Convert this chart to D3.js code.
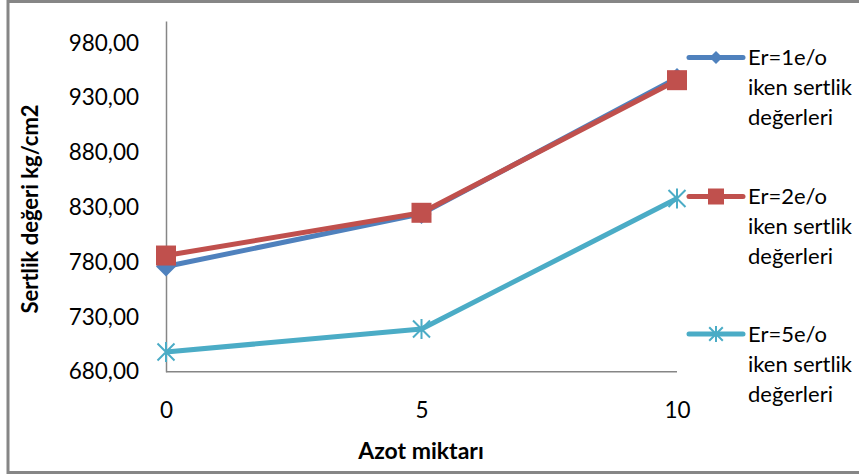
<!DOCTYPE html>
<html>
<head>
<meta charset="utf-8">
<script src="https://cdn.jsdelivr.net/npm/d3@7"></script>
<style>
  html, body { margin: 0; padding: 0; background: #fff; }
  svg { display: block; }
  text { font-family: Lato, "Open Sans", sans-serif; fill: #000; }
</style>
</head>
<body>
<svg id="chart" width="859" height="474"></svg>
<script>
// Azot miktarı (x categories)
const categories = ["0", "5", "10"];
// Sertlik değerleri, kg/cm2
const er1 = [776, 824, 948];
const er2 = [786, 825, 946];
const er5 = [698, 719, 838];
const seriesNames = [
  ["Er=1e/o", "iken sertlik", "değerleri"],
  ["Er=2e/o", "iken sertlik", "değerleri"],
  ["Er=5e/o", "iken sertlik", "değerleri"]
];
const yTicks = [680, 730, 780, 830, 880, 930, 980];
const colors = ["#4F81BD", "#C0504D", "#4BACC6"];
const markers = ["diamond", "square", "star"];

const svg = d3.select("#chart");

// outer frame
svg.append("rect")
  .attr("x", 8).attr("y", 1.5)
  .attr("width", 860).attr("height", 471)
  .attr("fill", "#fff").attr("stroke", "#868686").attr("stroke-width", 3);

const x = d3.scalePoint().domain(categories).range([166, 677]);
const y = d3.scaleLinear().domain([680, 1000]).range([371.7, 21]);

// y axis
const yAxis = d3.axisLeft(y)
  .tickValues(yTicks)
  .tickSize(0)
  .tickPadding(27)
  .tickFormat(d => d3.format(".2f")(d).replace(".", ","));
const gy = svg.append("g").attr("transform", "translate(166,0)").call(yAxis);
gy.select(".domain").attr("stroke", "#868686").attr("stroke-width", 1.5);
gy.selectAll("text").attr("font-size", 22.5).attr("font-family", "Lato, sans-serif").attr("fill", "#000");

// x axis
const xAxis = d3.axisBottom(x).tickSize(0).tickPadding(30);
const gx = svg.append("g").attr("transform", "translate(0,371.7)").call(xAxis);
gx.select(".domain").attr("stroke", "#868686").attr("stroke-width", 1.5).attr("d", "M166,0H677");
gx.selectAll("text").attr("font-size", 22.5).attr("font-family", "Lato, sans-serif").attr("fill", "#000");

// axis titles
svg.append("text")
  .attr("transform", "translate(38,209) rotate(-90)")
  .attr("text-anchor", "middle")
  .attr("font-size", 22).attr("font-weight", "bold")
  .text("Sertlik değeri kg/cm2");
svg.append("text")
  .attr("x", 421).attr("y", 459)
  .attr("text-anchor", "middle")
  .attr("font-size", 23).attr("font-weight", "bold")
  .text("Azot miktarı");

function drawMarker(g, type, cx, cy, color, s) {
  if (type === "diamond") {
    g.append("path")
      .attr("d", `M${cx},${cy - s}L${cx + s},${cy}L${cx},${cy + s}L${cx - s},${cy}Z`)
      .attr("fill", color);
  } else if (type === "square") {
    g.append("rect")
      .attr("x", cx - s).attr("y", cy - s)
      .attr("width", 2 * s).attr("height", 2 * s)
      .attr("fill", color);
  } else {
    const d = s * 0.85;
    g.append("path")
      .attr("d", `M${cx - d},${cy - d}L${cx + d},${cy + d}M${cx - d},${cy + d}L${cx + d},${cy - d}M${cx},${cy - s}L${cx},${cy + s}`)
      .attr("stroke", color).attr("stroke-width", 2).attr("fill", "none");
  }
}

const allSeries = [er1, er2, er5];
const line = d3.line().x((d, i) => x(categories[i])).y(d => y(d));

allSeries.forEach((vals, k) => {
  const g = svg.append("g");
  g.append("path")
    .datum(vals)
    .attr("d", line)
    .attr("fill", "none")
    .attr("stroke", colors[k])
    .attr("stroke-width", 5)
    .attr("stroke-linejoin", "round");
  vals.forEach((v, i) => {
    drawMarker(g, markers[k], x(categories[i]), y(v), colors[k], 10);
  });
});

// legend
const legendY = [57.5, 196.5, 334];
seriesNames.forEach((lines, k) => {
  const g = svg.append("g");
  const ly = legendY[k];
  g.append("line")
    .attr("x1", 689).attr("x2", 743).attr("y1", ly).attr("y2", ly)
    .attr("stroke", colors[k]).attr("stroke-width", 5).attr("stroke-linecap", "round");
  drawMarker(g, markers[k], 716, ly, colors[k], k === 0 ? 6.5 : 8);
  lines.forEach((t, j) => {
    g.append("text")
      .attr("x", 748).attr("y", ly + j * 30)
      .attr("dy", "0.35em")
      .attr("font-size", 22)
      .text(t);
  });
});
</script>
</body>
</html>
